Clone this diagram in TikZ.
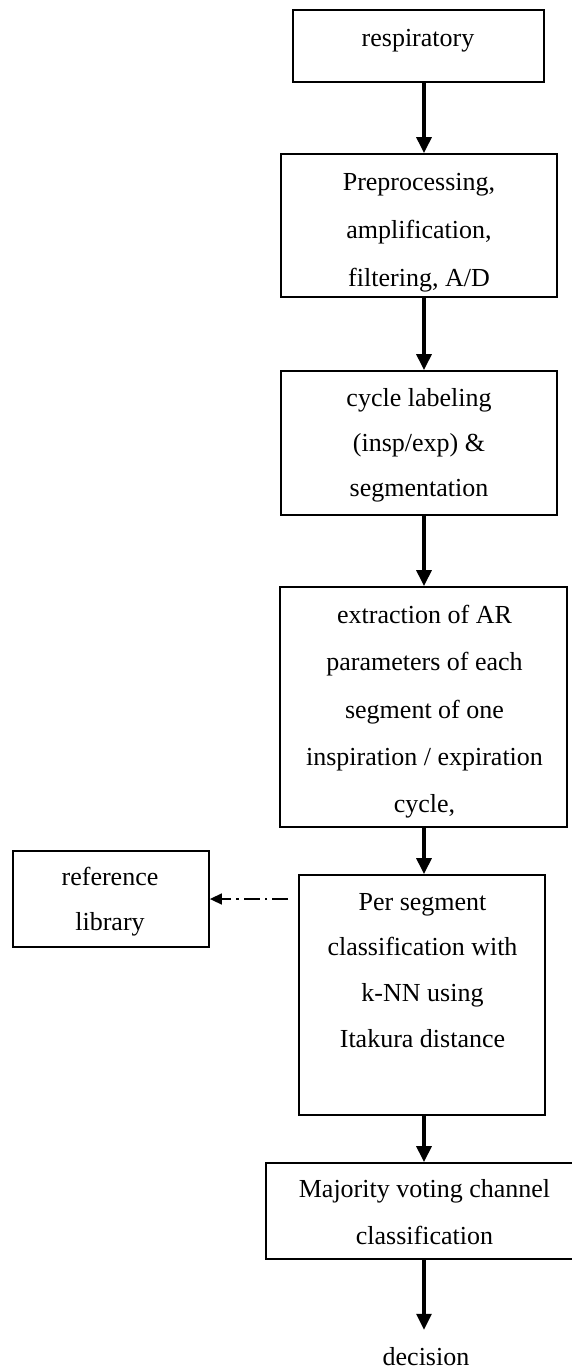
\documentclass[tikz,border=0pt]{standalone}
\usepackage{fontspec}
\setmainfont{Liberation Serif}
\usetikzlibrary{arrows.meta}
% one strutted line of box text, so that every line has the same height and depth
\newcommand\boxline[1]{\strut#1}
\begin{document}
\begin{tikzpicture}[x=1pt,y=-1pt,
  stage/.style={draw, line width=1.8pt, inner sep=0pt},
  words/.style={align=center, inner sep=0pt, anchor=north,
    font=\fontsize{26}{#1}\selectfont},
  words/.default=47,
  flow/.style={line width=3.2pt, -{Triangle[length=16pt,width=15pt]}},
  lookup/.style={line width=1.5pt, dash pattern=on 16pt off 5pt on 2.5pt off 5pt,
    -{Triangle[length=12pt,width=11pt]}}]
\useasboundingbox (0,0) rectangle (572,1369);
% vertical line along which the main flow runs
\coordinate (axis) at (424,0);

% boxes
\node[stage, minimum width=251pt, minimum height=72pt]  (b1)  at (418.5,46)  {};
\node[stage, minimum width=276pt, minimum height=143pt] (b2)  at (419,225.5) {};
\node[stage, minimum width=276pt, minimum height=144pt] (b3)  at (419,443)   {};
\node[stage, minimum width=287pt, minimum height=240pt] (b4)  at (423.5,707) {};
\node[stage, minimum width=246pt, minimum height=240pt] (b5)  at (422,995)   {};
\node[stage, minimum width=196pt, minimum height=96pt]  (ref) at (111,899)   {};
\node[stage, minimum width=316pt, minimum height=96pt]  (b6)  at (424,1211)  {};

% box texts (top of each block = first baseline - 0.7 baselineskip)
\node[words=47]    (b1t)  at (418,13.8)   {\boxline{respiratory}};
\node[words=48]    (b2t)  at (419,157.1)  {\boxline{Preprocessing,}\\\boxline{amplification,}\\\boxline{filtering, A/D}};
\node[words=45]    (b3t)  at (419,375.2)  {\boxline{cycle labeling}\\\boxline{(insp/exp) \&}\\\boxline{segmentation}};
\node[words=47.25] (b4t)  at (424.5,590.4) {\boxline{extraction of AR}\\\boxline{parameters of each}\\\boxline{segment of one}\\\boxline{inspiration / expiration}\\\boxline{cycle,}};
\node[words=45.6]  (b5t)  at (422.5,878.1) {\boxline{Per segment}\\\boxline{classification with}\\\boxline{k-NN using}\\\boxline{Itakura distance}};
\node[words=45.7]  (reft) at (110,853)    {\boxline{reference}\\\boxline{library}};
\node[words=46.3]  (b6t)  at (424.5,1165.3) {\boxline{Majority voting channel}\\\boxline{classification}};
\node[font=\fontsize{26}{47}\selectfont, inner sep=0pt, anchor=base] (dec) at (426,1365) {decision};

% connectors
\draw[flow] (b1.south -| axis) -- (b2.north -| axis);
\draw[flow] (b2.south -| axis) -- (b3.north -| axis);
\draw[flow] (b3.south -| axis) -- (b4.north -| axis);
\draw[flow] (b4.south -| axis) -- (b5.north -| axis);
\draw[flow] (b5.south -| axis) -- (b6.north -| axis);
\draw[flow, shorten >=17pt] (b6.south -| axis) -- (dec.north -| axis);
\draw[lookup, shorten <=10pt] (ref.east -| b5.west) -- (ref.east);
\end{tikzpicture}
\end{document}
